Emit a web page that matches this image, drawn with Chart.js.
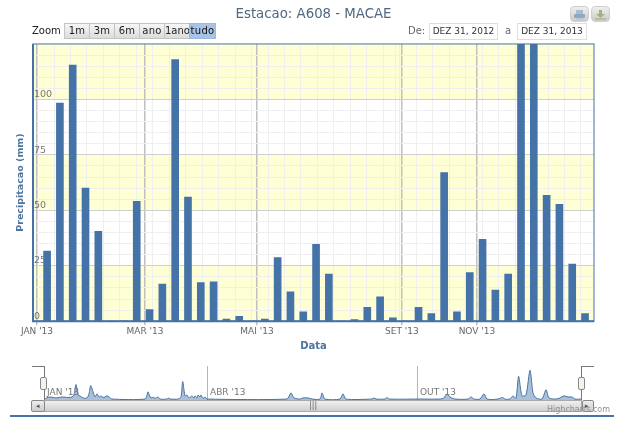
<!DOCTYPE html>
<html>
<head>
<meta charset="utf-8">
<title>Estacao: A608 - MACAE</title>
<script src="https://cdn.jsdelivr.net/npm/chart.js@4"></script>
<style>
  html, body { margin: 0; padding: 0; background: #fff; overflow: hidden; }
  body { width: 621px; height: 423px; position: relative; font-family: "DejaVu Sans", sans-serif; }
  canvas { position: absolute; display: block; }
  .abs { position: absolute; box-sizing: border-box; }
  .txt { font-size: 10px; line-height: 14px; white-space: nowrap; }
  .btn { top: 23px; height: 16px; font-size: 10px; line-height: 14px; text-align: center; color: #222; white-space: nowrap;
         border: 1px solid #c4c4c4; background: linear-gradient(#f6f6f6, #dcdcdc); letter-spacing: .3px; }
  .btn.on { background: #a8c3e6; border-color: #9db8dc; color: #111; }
  .box { top: 23px; height: 17px; border: 1px solid #ddd; font-size: 9px; line-height: 15px; text-align: center; color: #333; white-space: nowrap; }
  .icon { top: 6px; width: 19px; height: 16px; border: 1px solid #cfcfcf; border-radius: 4px; background: linear-gradient(#eee, #ccc); }
</style>
</head>
<body>
<canvas id="mainChart" style="left:0;top:0"></canvas>
<canvas id="navChart" style="left:44px;top:366px"></canvas>

<div class="abs txt" style="left:32px;top:24px;color:#222">Zoom</div>
<div class="abs btn" style="left:64px;width:26px">1m</div>
<div class="abs btn" style="left:89px;width:26px">3m</div>
<div class="abs btn" style="left:114px;width:26px">6m</div>
<div class="abs btn" style="left:139px;width:26px">ano</div>
<div class="abs btn" style="left:164px;width:26px;letter-spacing:0">1ano</div>
<div class="abs btn on" style="left:189px;width:27px">tudo</div>

<div class="abs txt" style="left:408px;top:24px;color:#666">De:</div>
<div class="abs box" style="left:429px;width:69px">DEZ 31, 2012</div>
<div class="abs txt" style="left:505px;top:24px;color:#666">a</div>
<div class="abs box" style="left:517px;width:70px">DEZ 31, 2013</div>

<div class="abs icon" style="left:570px">
  <svg width="17" height="14"><rect x="5" y="2" width="7" height="4" fill="#a9bbd0"/><rect x="3" y="6" width="11" height="4" rx="1" fill="#8fa8c4"/><rect x="5" y="10" width="7" height="2" fill="#b9c8da"/></svg>
</div>
<div class="abs icon" style="left:591px">
  <svg width="17" height="14"><rect x="7" y="2" width="3" height="4" fill="#9fb37e"/><path d="M4 6h9l-4.500 4z" fill="#9fb37e"/><rect x="3" y="10" width="11" height="2" fill="#b2c293"/></svg>
</div>

<!-- navigator outline and handles -->
<div class="abs" style="left:32px;top:366px;width:13px;height:34px;border-top:1px solid #777;border-right:1px solid #777"></div>
<div class="abs" style="left:581px;top:366px;width:13px;height:46px;border-top:1px solid #777;border-left:1px solid #777"></div>
<div class="abs" style="left:40px;top:377px;width:7px;height:13px;background:#f2f2f2;border:1px solid #888;border-radius:2px"></div>
<div class="abs" style="left:578px;top:377px;width:7px;height:13px;background:#f2f2f2;border:1px solid #888;border-radius:2px"></div>

<!-- scrollbar -->
<div class="abs" style="left:44px;top:400px;width:538px;height:12px;background:linear-gradient(#f0f0f0,#cfcfcf);border:1px solid #aaa"></div>
<div class="abs" style="left:31px;top:400px;width:14px;height:12px;background:linear-gradient(#eee,#ccc);border:1px solid #888;border-radius:2px"></div>
<div class="abs" style="left:582px;top:400px;width:12px;height:12px;background:linear-gradient(#eee,#ccc);border:1px solid #888;border-radius:2px"></div>
<div class="abs txt" style="left:36px;top:399px;font-size:7px;color:#555">&#9666;</div>
<div class="abs txt" style="left:585px;top:399px;font-size:7px;color:#555">&#9656;</div>
<div class="abs txt" style="left:309px;top:399px;font-size:8px;color:#666">|||</div>
<div class="abs" style="left:10px;top:415px;width:604px;height:2px;background:#4572a7"></div>
<div class="abs txt" style="left:547px;top:403px;font-size:8px;color:#909090">Highcharts.com</div>

<script>
const chartTitle = "Estacao: A608 - MACAE";
const xAxisTitle = "Data";
const yAxisTitle = "Precipitacao (mm)";

// one value per bar slot, the two tallest run off the top of the plot
const slots = [0,1,2,3,4,5,6,7,8,9,10,11,12,13,14,15,16,17,18,19,20,21,22,23,24,25,26,27,28,29,30,31,32,33,34,35,36,37,38,39,40,41,42];
const rain = [31.6,98.4,115.5,60,40.5,0,0,54,5.2,16.7,118,56,17.4,17.7,1,2.2,0,1,28.7,13.2,4.2,34.7,21.2,0,0.7,6.2,11,1.5,0,6.2,3.4,67,4.2,21.9,36.9,14,21.2,150,188,56.8,52.7,25.7,3.4];

const monthLabels = ["JAN '13", "MAR '13", "MAI '13", "SET '13", "NOV '13"];
const monthSlots = [-0.79, 7.64, 16.39, 27.7, 33.56];
const minorSlots = [0.54,1.82,3.11,4.39,5.68,6.97,8.25,9.54,10.82,12.11,13.39,14.68,15.97,17.25,18.54,19.82,21.11,22.39,23.68,24.97,26.25,27.2,27.54,28.82,30.11,31.39,32.68,33.97,35.25,36.54,37.82,39.11,40.39,41.68];
const yTicks = [0, 25, 50, 75, 100];
const yMinorTicks = [5,10,15,20,30,35,40,45,55,60,65,70,80,85,90,95,105,110,115,120];
const bands = [[0, 25], [50, 75], [100, 125]];

// navigator overview
const navPos = [0,6,12,18,24,28,30,32,34,36,39,43,45,46.7,49,51,53,55,57,59,61,63,65,68,101,104,106,108,109,111,114,116,123,124,126,134,137,138.7,141,143,145,148,150,151,153,154,156,157,159,161,163,243,247,250,256,259,264,268,276,278,281,296,299,302,328,330,332,341,343,345,374,396,400,403,406,411,424,427,430,436,440,443,454,458.5,461,466,469,472,474.6,478,482,486,489,492,498,502,505,512,516,520,524,528,531,538];
const navRain = [6,19,13,19,16,19,32,98,32,26,13,13,39,91,52,19,39,19,26,16,19,26,19,6,6,52,19,13,19,10,19,6,6,13,6,6,19,117,26,32,13,26,13,26,13,32,19,32,10,19,6,6,45,13,6,13,13,6,6,45,6,6,39,6,6,13,6,6,16,6,6,6,13,39,19,6,6,19,6,6,39,6,6,16,6,6,26,10,150,26,32,188,45,13,6,65,13,6,13,26,19,19,6,6];
const navLabels = ["JAN '13", "ABR '13", "OUT '13"];
const navTicks = [0, 163, 373];

const bandPlugin = {
    id: "bands",
    beforeDraw(chart) {
        const { ctx, chartArea, scales } = chart;
        ctx.save();
        ctx.fillStyle = "#ffffd6";
        bands.forEach(b => {
            const top = scales.y.getPixelForValue(b[1]);
            const bottom = scales.y.getPixelForValue(b[0]);
            ctx.fillRect(chartArea.left, top, chartArea.right - chartArea.left, bottom - top);
        });
        ctx.restore();
    },
    afterDraw(chart) {
        const { ctx, chartArea } = chart;
        ctx.save();
        ctx.strokeStyle = "#4572a7";
        ctx.lineWidth = 1;
        ctx.strokeRect(chartArea.left, chartArea.top, chartArea.right - chartArea.left, chartArea.bottom - chartArea.top);
        ctx.lineWidth = 2;
        ctx.beginPath();
        ctx.moveTo(chartArea.left, chartArea.top);
        ctx.lineTo(chartArea.left, chartArea.bottom);
        ctx.lineTo(chartArea.right, chartArea.bottom);
        ctx.stroke();
        ctx.restore();
    }
};

const navLabelPlugin = {
    id: "navLabels",
    afterDraw(chart) {
        const { ctx, scales } = chart;
        ctx.save();
        ctx.font = "9px 'DejaVu Sans'";
        ctx.fillStyle = "#777";
        ctx.textBaseline = "middle";
        navTicks.forEach((t, i) => {
            ctx.fillText(navLabels[i], scales.x.getPixelForValue(t) + 3, 27);
        });
        ctx.restore();
    }
};

const mainCanvas = document.getElementById("mainChart");
mainCanvas.width = 621;
mainCanvas.height = 423;

new Chart(mainCanvas, {
    type: "bar",
    data: {
        datasets: [{
            data: slots.map((s, i) => ({ x: s, y: rain[i] })),
            backgroundColor: "#4572a7",
            barThickness: 7,
            xAxisID: "x",
            yAxisID: "y"
        }]
    },
    plugins: [bandPlugin],
    options: {
        responsive: false,
        animation: false,
        layout: { padding: { left: 15, right: 27, top: 0, bottom: 71 } },
        plugins: {
            legend: { display: false },
            tooltip: { enabled: false },
            title: {
                display: true,
                text: chartTitle,
                fullSize: false,
                color: "#4f6880",
                font: { family: "'DejaVu Sans'", size: 13.3, weight: "normal" },
                padding: { top: 7, bottom: 21 }
            }
        },
        scales: {
            xMinor: {
                type: "linear",
                position: "bottom",
                min: -1.1,
                max: 42.7,
                offset: false,
                grid: { color: "#efefef", drawTicks: false, offset: false },
                border: { display: false },
                ticks: { display: false },
                afterBuildTicks(scale) { scale.ticks = minorSlots.map(v => ({ value: v })); },
                afterFit(scale) { scale.height = 0; }
            },
            x: {
                type: "linear",
                position: "bottom",
                min: -1.1,
                max: 42.7,
                offset: false,
                grid: { color: "#c0c0c0", lineWidth: 1.5, tickLength: 4, offset: false },
                border: { display: false },
                ticks: {
                    color: "#666",
                    font: { family: "'DejaVu Sans'", size: 9 },
                    maxRotation: 0,
                    padding: 1,
                    autoSkip: false,
                    callback: (v, i) => monthLabels[i]
                },
                afterBuildTicks(scale) { scale.ticks = monthSlots.map(v => ({ value: v })); },
                title: {
                    display: true,
                    text: xAxisTitle,
                    color: "#4d759e",
                    font: { family: "'DejaVu Sans'", size: 10, weight: "bold" },
                    padding: { top: 2, bottom: 0 }
                }
            },
            yMinor: {
                type: "linear",
                position: "left",
                min: 0,
                max: 125,
                grid: { color: "#efefef", drawTicks: false },
                border: { display: false },
                ticks: { display: false },
                afterBuildTicks(scale) { scale.ticks = yMinorTicks.map(v => ({ value: v })); },
                afterFit(scale) { scale.width = 0; }
            },
            y: {
                type: "linear",
                position: "left",
                min: 0,
                max: 125,
                grid: { color: "#d0d0d0", drawTicks: false },
                border: { display: false },
                ticks: {
                    mirror: true,
                    align: "end",
                    padding: 1,
                    color: "#777",
                    font: { family: "'DejaVu Sans'", size: 9.5 },
                    callback: v => String(v)
                },
                afterBuildTicks(scale) { scale.ticks = yTicks.map(v => ({ value: v })); },
                afterFit(scale) { scale.width = 18; },
                title: {
                    display: true,
                    text: yAxisTitle,
                    color: "#4d759e",
                    font: { family: "'DejaVu Sans'", size: 9.5, weight: "bold" },
                    padding: 0
                }
            }
        }
    }
});

const navCanvas = document.getElementById("navChart");
navCanvas.width = 538;
navCanvas.height = 34;

new Chart(navCanvas, {
    type: "line",
    data: {
        datasets: [{
            data: navPos.map((p, i) => ({ x: p, y: navRain[i] })),
            borderColor: "#4572a7",
            borderWidth: 1,
            backgroundColor: "rgba(69,114,167,0.45)",
            fill: "origin",
            pointRadius: 0,
            tension: 0.25
        }]
    },
    plugins: [navLabelPlugin],
    options: {
        responsive: false,
        animation: false,
        layout: { padding: 0 },
        plugins: { legend: { display: false }, tooltip: { enabled: false } },
        scales: {
            x: {
                type: "linear",
                min: 0,
                max: 538,
                grid: { color: "#b5b5b5", drawTicks: false },
                border: { display: false },
                ticks: { display: false },
                afterBuildTicks(scale) { scale.ticks = navTicks.map(v => ({ value: v })); },
                afterFit(scale) { scale.height = 0; }
            },
            y: { display: false, min: 0, max: 215 }
        }
    }
});
</script>
</body>
</html>
